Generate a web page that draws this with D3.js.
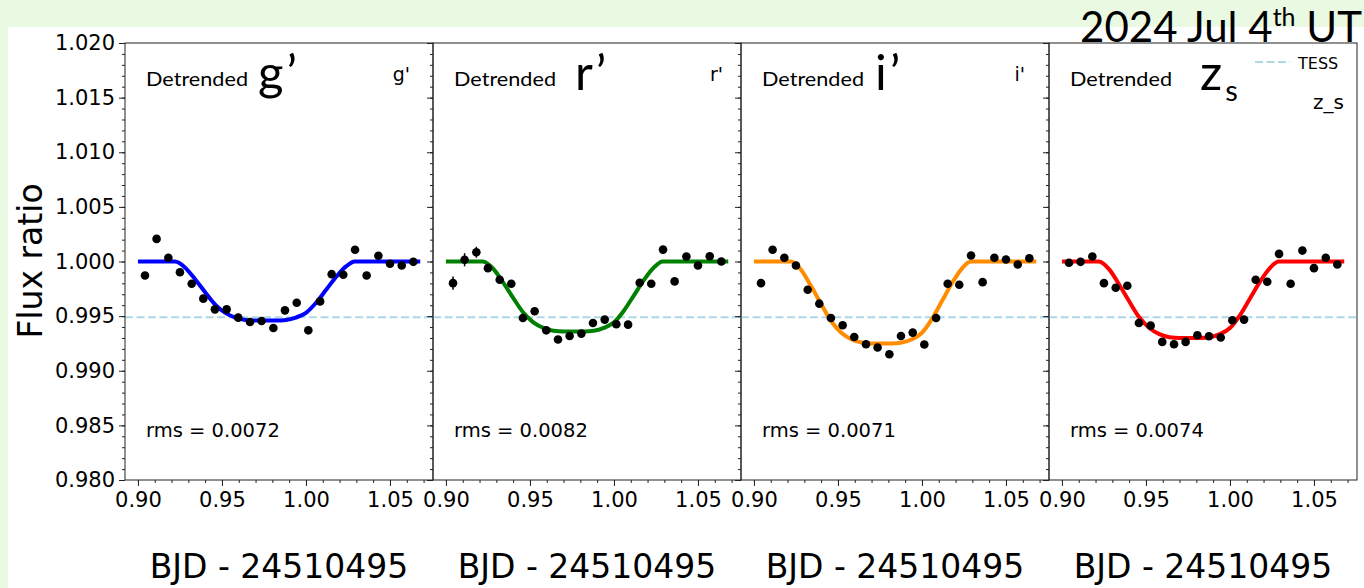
<!DOCTYPE html>
<html>
<head>
<meta charset="utf-8">
<script src="https://cdn.jsdelivr.net/npm/d3@7"></script>
<style>
  body { margin: 0; background: #eafae2; }
  svg { display: block; }
</style>
</head>
<body>
<div id="chart"></div>
<script>
// observation times (BJD - 24510495), shared by all bands
const TIMES = [0.9042, 0.9111, 0.9181, 0.9250, 0.9320, 0.9389, 0.9458, 0.9528, 0.9597, 0.9667, 0.9736, 0.9806,
  0.9875, 0.9945, 1.0014, 1.0084, 1.0153, 1.0222, 1.0292, 1.0361, 1.0431, 1.0500, 1.0570, 1.0639]

// detrended flux per band
const FLUX_G = [0.99872, 1.00207, 1.00034, 0.99902, 0.99797, 0.99660, 0.99562, 0.99562, 0.99486, 0.99446, 0.99455, 0.99391,
  0.99553, 0.99623, 0.99370, 0.99635, 0.99884, 0.99879, 1.00107, 0.99872, 1.00052, 0.99979, 0.99964, 0.99997]
const FLUX_R = [0.99802, 1.00016, 1.00085, 0.99939, 0.99833, 0.99797, 0.99483, 0.99544, 0.99370, 0.99286, 0.99318, 0.99340,
  0.99437, 0.99468, 0.99425, 0.99422, 0.99806, 0.99797, 1.00109, 0.99818, 1.00046, 0.99964, 1.00048, 1.00000]
const FLUX_I = [0.99802, 1.00107, 1.00034, 0.99964, 0.99742, 0.99614, 0.99483, 0.99416, 0.99309, 0.99243, 0.99213, 0.99151,
  0.99318, 0.99349, 0.99240, 0.99483, 0.99797, 0.99787, 1.00055, 0.99811, 1.00034, 1.00018, 0.99973, 1.00030]
const FLUX_Z = [0.99988, 0.99997, 1.00046, 0.99802, 0.99760, 0.99778, 0.99437, 0.99413, 0.99264, 0.99243, 0.99264, 0.99325,
  0.99316, 0.99304, 0.99462, 0.99468, 0.99833, 0.99815, 1.00070, 0.99797, 1.00100, 0.99939, 1.00034, 0.99973]

// flux errors per band
const ERR_G = [0.0003, 0.0003, 0.0003, 0.0003, 0.0003, 0.0003, 0.0003, 0.0003, 0.0003, 0.0003, 0.0003, 0.0003,
  0.0003, 0.0003, 0.0003, 0.0003, 0.0003, 0.0003, 0.0003, 0.0003, 0.0003, 0.0003, 0.0003, 0.0003]
const ERR_R = [0.0006, 0.0006, 0.0005, 0.0003, 0.0003, 0.0003, 0.0003, 0.0003, 0.0003, 0.0003, 0.0003, 0.0003,
  0.0003, 0.0003, 0.0003, 0.0003, 0.0003, 0.0003, 0.0003, 0.0003, 0.0003, 0.0003, 0.0003, 0.0003]
const ERR_I = [0.0003, 0.0003, 0.0003, 0.0003, 0.0003, 0.0003, 0.0003, 0.0003, 0.0003, 0.0003, 0.0003, 0.0003,
  0.0003, 0.0003, 0.0003, 0.0003, 0.0003, 0.0003, 0.0003, 0.0003, 0.0003, 0.0003, 0.0003, 0.0003]
const ERR_Z = [0.0003, 0.0003, 0.0003, 0.0003, 0.0003, 0.0003, 0.0003, 0.0003, 0.0003, 0.0003, 0.0003, 0.0003,
  0.0003, 0.0003, 0.0003, 0.0003, 0.0003, 0.0003, 0.0003, 0.0003, 0.0003, 0.0003, 0.0003, 0.0003]

// transit model
const MODEL_T = [0.900, 0.922, 0.928, 0.934, 0.940, 0.946, 0.952, 0.958, 0.964, 0.970, 0.982, 0.988,
  0.994, 1.000, 1.006, 1.012, 1.018, 1.024, 1.029, 1.068]
const MODEL_G = [1.0, 1.0, 0.99946, 0.99838, 0.99719, 0.99606, 0.99530, 0.99487, 0.99465, 0.99460, 0.99460, 0.99465,
  0.99487, 0.99530, 0.99622, 0.99741, 0.99860, 0.99957, 1.0, 1.0]
const MODEL_R = [1.0, 1.0, 0.99936, 0.99808, 0.99667, 0.99533, 0.99443, 0.99392, 0.99366, 0.99360, 0.99360, 0.99366,
  0.99392, 0.99443, 0.99552, 0.99693, 0.99834, 0.99949, 1.0, 1.0]
const MODEL_I = [1.0, 1.0, 0.99925, 0.99775, 0.99610, 0.99453, 0.99348, 0.99288, 0.99258, 0.99250, 0.99250, 0.99258,
  0.99288, 0.99348, 0.99475, 0.99640, 0.99805, 0.99940, 1.0, 1.0]
const MODEL_Z = [1.0, 1.0, 0.99930, 0.99790, 0.99636, 0.99489, 0.99391, 0.99335, 0.99307, 0.99300, 0.99300, 0.99307,
  0.99335, 0.99391, 0.99510, 0.99664, 0.99818, 0.99944, 1.0, 1.0]

const BANDS = ["g'", "r'", "i'", "z_s"]
const RMS = ["0.0072", "0.0082", "0.0071", "0.0074"]
const TESS_DEPTH = 0.9949

const X_TICKS = [0.90, 0.95, 1.00, 1.05]
const Y_TICKS = [0.980, 0.985, 0.990, 0.995, 1.000, 1.005, 1.010, 1.015, 1.020]

const W = 1364, H = 588
const PW = 308, LEFT = 125, TOP = 43, BOTTOM = 480
const SANS = "DejaVu Sans, sans-serif"
const HUMAN = "Lato, 'Open Sans', sans-serif"

const panels = [
  { flux: FLUX_G, err: ERR_G, model: MODEL_G, color: "#0000ff", big: "g’", bigDx: 133, tagRight: 410 },
  { flux: FLUX_R, err: ERR_R, model: MODEL_R, color: "#008000", big: "r’", bigDx: 142, tagRight: 723 },
  { flux: FLUX_I, err: ERR_I, model: MODEL_I, color: "#ff8c00", big: "i’", bigDx: 134, tagRight: 1025 },
  { flux: FLUX_Z, err: ERR_Z, model: MODEL_Z, color: "#ff0000", big: "z", bigDx: 151, tagRight: 1344 }
]

const svg = d3.select("#chart").append("svg").attr("width", W).attr("height", H)

// page background: green band on top, white sheet below
svg.append("rect").attr("width", W).attr("height", H).attr("fill", "#eafae2")
svg.append("rect").attr("x", 8).attr("y", 27).attr("width", W - 8).attr("height", H - 27).attr("fill", "#fff")

const y = d3.scaleLinear().domain([0.980, 1.020]).range([BOTTOM, TOP])
const yMinor = d3.range(980, 1021).map((v) => v / 1000)

panels.forEach((p, i) => {
  const left = LEFT + i * PW
  const x = d3.scaleLinear().domain([0.8923, 1.0756]).range([left, left + PW])
  const xMinor = d3.range(89, 108).map((v) => v / 100).filter((v) => v >= 0.8923 && v <= 1.0756)
  const g = svg.append("g")

  // TESS depth
  g.append("line")
    .attr("x1", left).attr("x2", left + PW)
    .attr("y1", y(TESS_DEPTH)).attr("y2", y(TESS_DEPTH))
    .attr("stroke", "#add8e6").attr("stroke-width", 2).attr("stroke-dasharray", "8,3.5")

  // model
  const line = d3.line().x((d) => x(d[0])).y((d) => y(d[1])).curve(d3.curveMonotoneX)
  g.append("path")
    .attr("d", line(MODEL_T.map((t, k) => [t, p.model[k]])))
    .attr("fill", "none").attr("stroke", p.color).attr("stroke-width", 4)

  // data with error bars
  const pts = TIMES.map((t, k) => ({ t, f: p.flux[k], e: p.err[k] }))
  g.selectAll(".eb").data(pts).enter().append("line")
    .attr("x1", (d) => x(d.t)).attr("x2", (d) => x(d.t))
    .attr("y1", (d) => y(d.f - d.e)).attr("y2", (d) => y(d.f + d.e))
    .attr("stroke", "#000").attr("stroke-width", 1.5)
  g.selectAll(".pt").data(pts).enter().append("circle")
    .attr("cx", (d) => x(d.t)).attr("cy", (d) => y(d.f)).attr("r", 4.3)
    .attr("fill", "#000")

  // axes
  g.append("g").attr("transform", `translate(0,${BOTTOM})`)
    .call(d3.axisBottom(x).tickValues(X_TICKS).tickFormat(d3.format(".2f")).tickSize(6).tickPadding(6).tickSizeOuter(0))
  g.append("g").attr("transform", `translate(0,${BOTTOM})`)
    .call(d3.axisBottom(x).tickValues(xMinor).tickFormat("").tickSize(3).tickSizeOuter(0))
  g.append("g").attr("transform", `translate(${left},0)`)
    .call(d3.axisLeft(y).tickValues(Y_TICKS).tickFormat(i === 0 ? d3.format(".3f") : "").tickSize(6).tickPadding(4).tickSizeOuter(0))
  g.append("g").attr("transform", `translate(${left},0)`)
    .call(d3.axisLeft(y).tickValues(yMinor).tickFormat("").tickSize(3).tickSizeOuter(0))
  g.selectAll(".domain").remove()
  g.selectAll(".tick line").attr("stroke", "#222")
  g.selectAll(".tick text").attr("font-family", SANS).attr("font-size", 21).attr("fill", "#000")

  // frame
  g.append("rect")
    .attr("x", left).attr("y", TOP).attr("width", PW).attr("height", BOTTOM - TOP)
    .attr("fill", "none").attr("stroke", "#222").attr("stroke-width", 1)

  // annotations
  g.append("text").attr("x", left + 21).attr("y", 86)
    .attr("font-family", HUMAN).attr("font-size", 20)
    .attr("textLength", 102).attr("lengthAdjust", "spacingAndGlyphs")
    .text("Detrended")
  const big = g.append("text").attr("x", left + p.bigDx).attr("y", 90)
    .attr("font-family", HUMAN).attr("font-size", 49).attr("letter-spacing", 3).text(p.big)
  if (i === 3) big.append("tspan").attr("dy", 11).attr("font-size", 29).text("s")

  g.append("text").attr("x", p.tagRight).attr("y", i === 3 ? 109 : 81)
    .attr("text-anchor", "end").attr("font-family", SANS).attr("font-size", i === 3 ? 20 : 19)
    .text(BANDS[i])

  g.append("text").attr("x", left + 21).attr("y", 437)
    .attr("font-family", SANS).attr("font-size", 19.5)
    .text(`rms = ${RMS[i]}`)

  g.append("text").attr("x", left + PW / 2).attr("y", 578)
    .attr("text-anchor", "middle").attr("font-family", SANS).attr("font-size", 33)
    .text("BJD - 24510495")
})

// TESS legend entry in the last panel
svg.append("line").attr("x1", 1255).attr("x2", 1290).attr("y1", 62).attr("y2", 62)
  .attr("stroke", "#add8e6").attr("stroke-width", 2).attr("stroke-dasharray", "8,3.5")
svg.append("text").attr("x", 1298).attr("y", 69)
  .attr("font-family", SANS).attr("font-size", 16).text("TESS")

// y label
svg.append("text").attr("transform", "translate(42,261) rotate(-90)")
  .attr("text-anchor", "middle").attr("font-family", SANS).attr("font-size", 33)
  .text("Flux ratio")

// date
const title = svg.append("text").attr("x", 1362).attr("y", 42).attr("text-anchor", "end")
  .attr("font-family", HUMAN).attr("font-size", 42)
title.append("tspan").text("2024 Jul 4")
title.append("tspan").attr("dy", -16).attr("font-size", 25).text("th")
title.append("tspan").attr("dy", 16).text(" UT")
</script>
</body>
</html>
